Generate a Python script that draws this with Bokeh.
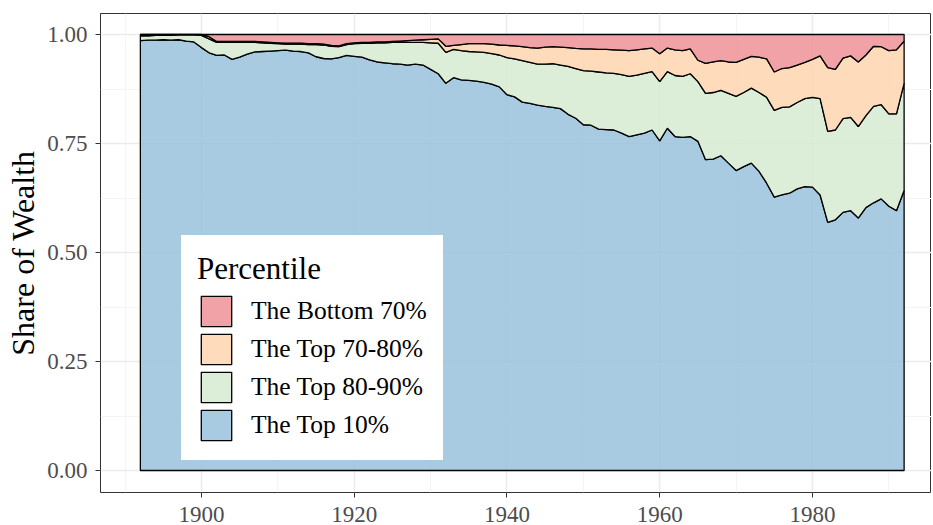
import numpy as np
from bokeh.plotting import figure
from bokeh.models import (Range1d, FixedTicker, NumeralTickFormatter, Legend, LegendItem)
from bokeh.embed import file_html
from bokeh.resources import INLINE

years = list(range(1892, 1993))

top10 = [
    .986, .987, .987, .988, .987, .988, .985, .983, .970, .958,
    .952, .953, .943, .948, .955, .960, .961, .962, .963, .964,
    .962, .961, .958, .949, .945, .944, .947, .952, .950, .948,
    .942, .937, .935, .933, .932, .930, .932, .930, .920, .910,
    .888, .901, .896, .895, .893, .890, .886, .880, .862, .857,
    .845, .842, .838, .835, .833, .830, .817, .808, .793, .792,
    .783, .782, .781, .774, .766, .770, .774, .781, .756, .785,
    .766, .764, .766, .755, .713, .714, .722, .705, .688, .697,
    .705, .686, .659, .627, .632, .636, .646, .651, .650, .632,
    .569, .575, .592, .596, .579, .603, .614, .623, .606, .596, .642]

top80_90 = [
    .011, .010, .011, .010, .011, .011, .014, .016, .028, .032,
    .030, .029, .039, .034, .027, .022, .020, .018, .016, .014,
    .016, .017, .019, .028, .031, .029, .025, .025, .029, .032,
    .038, .044, .046, .049, .050, .052, .050, .052, .061, .070,
    .071, .065, .067, .066, .067, .069, .070, .073, .085, .087,
    .095, .094, .094, .097, .100, .100, .110, .114, .124, .124,
    .131, .130, .130, .134, .138, .137, .137, .134, .136, .130,
    .140, .140, .144, .137, .152, .153, .150, .160, .170, .170,
    .172, .181, .197, .199, .201, .198, .198, .202, .206, .221,
    .209, .206, .215, .214, .210, .211, .221, .216, .212, .222, .246]

top70_80 = [
    .003, .003, .002, .002, .002, .001, .001, .001, .002, .005,
    .002, .002, .002, .002, .002, .002, .002, .002, .002, .002,
    .002, .002, .002, .002, .002, .002, .002, .002, .002, .002,
    .002, .002, .002, .002, .003, .004, .005, .006, .008, .010,
    .014, .009, .014, .018, .019, .020, .022, .023, .028, .030,
    .032, .034, .037, .039, .039, .041, .043, .046, .050, .051,
    .052, .054, .054, .056, .059, .058, .056, .054, .064, .054,
    .059, .059, .057, .049, .069, .070, .068, .072, .078, .076,
    .073, .081, .088, .088, .089, .090, .086, .083, .087, .098,
    .146, .139, .139, .141, .148, .139, .138, .133, .145, .147, .097]

bottom70 = [
    .000, .000, .000, .000, .000, .000, .000, .000, .000, .005,
    .016, .016, .016, .016, .016, .016, .017, .018, .019, .020,
    .020, .020, .021, .021, .022, .025, .026, .021, .019, .018,
    .018, .017, .017, .016, .015, .014, .013, .012, .011, .010,
    .027, .025, .023, .021, .021, .021, .022, .024, .025, .026,
    .028, .030, .031, .029, .028, .029, .030, .032, .033, .033,
    .034, .034, .035, .036, .037, .035, .033, .031, .044, .031,
    .035, .037, .033, .059, .066, .063, .060, .063, .064, .057,
    .050, .052, .056, .086, .078, .076, .070, .064, .057, .049,
    .076, .080, .054, .049, .063, .047, .027, .028, .037, .035, .015]

series_names = ["The Top 10%", "The Top 80-90%", "The Top 70-80%", "The Bottom 70%"]
series_values = [top10, top80_90, top70_80, bottom70]
series_colors = ["#9AC2DD", "#D6EBD1", "#FED6AF", "#EE9296"]

x_ticks = [1900, 1920, 1940, 1960, 1980]
x_minor = [1890, 1910, 1930, 1950, 1970, 1990]
y_ticks = [0, 0.25, 0.5, 0.75, 1.0]
y_minor = [0.125, 0.375, 0.625, 0.875]

SERIF = "Liberation Serif"

W, H = 931, 532
LEFT, TOP, BOTTOM = 100, 13, 40
frame_w = W - LEFT
frame_h = H - TOP - BOTTOM
px_per_year = 7.6375
px_per_unit = 436.0
x0 = 1886.78
y1 = 1.0482

p = figure(width=W, height=H, output_backend="svg", toolbar_location=None,
           x_range=Range1d(x0, x0 + frame_w / px_per_year),
           y_range=Range1d(y1 - frame_h / px_per_unit, y1),
           min_border_left=LEFT, min_border_top=TOP, min_border_right=0,
           min_border_bottom=BOTTOM)

p.background_fill_color = "white"
p.border_fill_color = "white"
p.outline_line_color = "#333333"
p.outline_line_width = 1

xt = FixedTicker(ticks=x_ticks, minor_ticks=x_minor)
yt = FixedTicker(ticks=y_ticks, minor_ticks=y_minor)
p.xaxis.ticker = xt
p.yaxis.ticker = yt
p.xgrid.ticker = xt
p.ygrid.ticker = yt
p.yaxis.formatter = NumeralTickFormatter(format="0.00")

for g in (p.xgrid, p.ygrid):
    g.grid_line_color = "#EBEBEB"
    g.grid_line_width = 1.4
    g.minor_grid_line_color = "#F4F4F4"
    g.minor_grid_line_width = 1

for ax in (p.xaxis, p.yaxis):
    ax.axis_line_color = None
    ax.major_tick_line_color = "#333333"
    ax.major_tick_line_width = 1
    ax.major_tick_out = 5
    ax.major_tick_in = 0
    ax.minor_tick_line_color = None
    ax.major_label_text_font = SERIF
    ax.major_label_text_font_size = "23px"
    ax.major_label_text_color = "#4D4D4D"

p.xaxis.major_label_standoff = 9
p.yaxis.major_label_standoff = 8
p.yaxis.axis_label = "Share of Wealth"
p.yaxis.axis_label_text_font = SERIF
p.yaxis.axis_label_text_font_size = "32px"
p.yaxis.axis_label_text_font_style = "normal"
p.yaxis.axis_label_text_color = "black"
p.yaxis.axis_label_standoff = 3

yrs = np.array(years, dtype=float)
lower = np.zeros(len(years))
renderers = {}
for name, vals, col in zip(series_names, series_values, series_colors):
    upper = lower + np.array(vals)
    xs = np.concatenate([yrs, yrs[::-1]])
    ys = np.concatenate([upper, lower[::-1]])
    r = p.patch(xs, ys, fill_color=col, fill_alpha=0.85, line_color="black", line_width=1.3)
    renderers[name] = r
    lower = upper

items = [LegendItem(label=n, renderers=[renderers[n]]) for n in reversed(series_names)]
legend = Legend(items=items, location=(81, 32), title="Percentile")
legend.title_text_font = SERIF
legend.title_text_font_size = "31px"
legend.title_text_font_style = "normal"
legend.title_text_color = "black"
legend.title_standoff = 5
legend.label_text_font = SERIF
legend.label_text_font_size = "25.5px"
legend.label_text_color = "black"
legend.label_standoff = 16
legend.label_height = 38
legend.glyph_width = 38
legend.glyph_height = 38
legend.spacing = 0
legend.padding = 15
legend.margin = 0
legend.border_line_color = "white"
legend.border_line_width = 1
legend.background_fill_color = "white"
legend.background_fill_alpha = 1.0
p.add_layout(legend)

open("out.html", "w").write(file_html(p, INLINE))
